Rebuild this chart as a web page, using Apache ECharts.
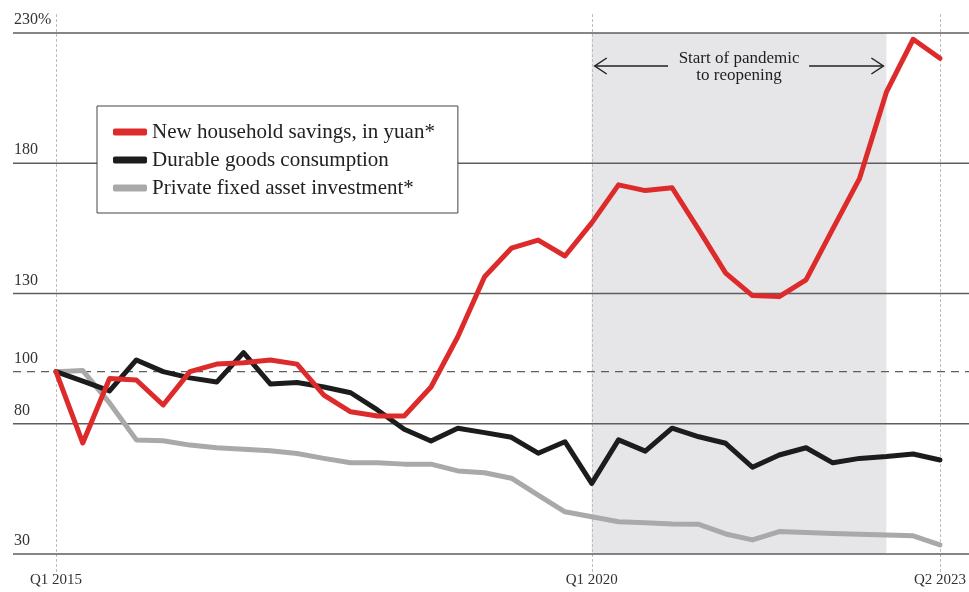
<!DOCTYPE html>
<html>
<head>
<meta charset="utf-8">
<script src="https://cdn.jsdelivr.net/npm/echarts@6/dist/echarts.min.js"></script>
<style>
  html, body { margin: 0; padding: 0; background: #fff; }
  #chart { width: 969px; height: 592px; }
</style>
</head>
<body>
<div id="chart"></div>
<script>
// Quarterly index, Q1 2015 = 100
const quarters = [
  '2015 Q1', '2015 Q2', '2015 Q3', '2015 Q4',
  '2016 Q1', '2016 Q2', '2016 Q3', '2016 Q4',
  '2017 Q1', '2017 Q2', '2017 Q3', '2017 Q4',
  '2018 Q1', '2018 Q2', '2018 Q3', '2018 Q4',
  '2019 Q1', '2019 Q2', '2019 Q3', '2019 Q4',
  '2020 Q1', '2020 Q2', '2020 Q3', '2020 Q4',
  '2021 Q1', '2021 Q2', '2021 Q3', '2021 Q4',
  '2022 Q1', '2022 Q2', '2022 Q3', '2022 Q4',
  '2023 Q1', '2023 Q2'
];

const householdSavings = [
  100, 72.6, 97.4, 96.8, 87.2, 100, 102.9, 103.4, 104.5, 102.9,
  91.0, 84.6, 83.0, 83.0, 94.1, 113.4, 136.4, 147.4, 150.5, 144.4,
  157.1, 171.7, 169.5, 170.6, 154.4, 137.8, 129.2, 128.8, 135.2, 154.8,
  174.2, 207.3, 227.6, 220.3
];

const durableGoods = [
  100, 96.4, 92.6, 104.5, 100, 97.6, 96.0, 107.3, 95.3, 95.8,
  94.1, 91.9, 85.3, 77.9, 73.4, 78.3, 76.6, 74.8, 68.7, 73.1,
  57.1, 73.8, 69.5, 78.3, 75.0, 72.5, 63.3, 68.0, 70.8, 65.0,
  66.7, 67.4, 68.4, 66.1
];

const privateInvestment = [
  100, 100.4, 88.0, 73.8, 73.5, 71.8, 70.8, 70.2, 69.6, 68.6,
  66.7, 65.0, 65.0, 64.5, 64.5, 61.9, 61.2, 59.1, 52.6, 46.2,
  44.3, 42.4, 42.0, 41.5, 41.4, 37.7, 35.4, 38.6, 38.3, 37.9,
  37.6, 37.3, 37.0, 33.5
];

const seriesNames = [
  'New household savings, in yuan*',
  'Durable goods consumption',
  'Private fixed asset investment*'
];

const yTicks = [30, 80, 130, 180, 230];
const baselineValue = 100;
const xTickLabels = { '2015 Q1': 'Q1 2015', '2020 Q1': 'Q1 2020', '2023 Q2': 'Q2 2023' };
const pandemicSpan = ['2020 Q1', '2022 Q4'];
const pandemicNote = ['Start of pandemic', 'to reopening'];

const SERIF = '"Liberation Serif", "DejaVu Serif", serif';
const RED = '#dd2b2b';
const BLACK = '#1c1c1c';
const GREY = '#a9a9a9';
const RULE = '#5e5e5e';

const chart = echarts.init(document.getElementById('chart'));

const lineStyleOf = (color) => ({ color: color, width: 5, join: 'round', cap: 'round' });

chart.setOption({
  animation: false,
  backgroundColor: '#fff',
  grid: { left: 56, right: 29, top: 33, bottom: 38 },
  xAxis: {
    type: 'category',
    data: quarters,
    boundaryGap: false,
    axisLine: { show: false },
    axisTick: { show: false },
    splitLine: { show: false },
    axisLabel: {
      interval: (i, v) => v in xTickLabels,
      formatter: (v) => xTickLabels[v] || '',
      margin: 19,
      fontFamily: SERIF,
      fontSize: 15,
      color: '#333'
    }
  },
  yAxis: {
    type: 'value',
    min: 30,
    max: 230,
    axisLine: { show: false },
    axisTick: { show: false },
    axisLabel: { show: false },
    splitLine: { show: false }
  },
  legend: {
    data: seriesNames,
    orient: 'vertical',
    left: 97,
    top: 106,
    padding: [15, 23, 14, 16],
    itemWidth: 34,
    itemHeight: 7,
    itemGap: 6,
    itemTextGap: 5,
    icon: 'roundRect',
    backgroundColor: '#fff',
    borderColor: '#444',
    borderWidth: 1,
    borderRadius: 0,
    selectedMode: false,
    textStyle: { fontFamily: SERIF, fontSize: 21, color: '#222', lineHeight: 22 }
  },
  series: [
    {
      // shaded pandemic period
      type: 'line',
      name: 'pandemic',
      data: [],
      z: 0,
      silent: true,
      markArea: {
        silent: true,
        itemStyle: { color: '#e6e6e9' },
        data: [[{ xAxis: pandemicSpan[0] }, { xAxis: pandemicSpan[1] }]]
      }
    },
    {
      type: 'line', name: seriesNames[2], data: privateInvestment,
      symbol: 'none', z: 3, lineStyle: lineStyleOf(GREY), itemStyle: { color: GREY }
    },
    {
      type: 'line', name: seriesNames[1], data: durableGoods,
      symbol: 'none', z: 4, lineStyle: lineStyleOf(BLACK), itemStyle: { color: BLACK }
    },
    {
      type: 'line', name: seriesNames[0], data: householdSavings,
      symbol: 'none', z: 5, lineStyle: lineStyleOf(RED), itemStyle: { color: RED }
    }
  ]
});

// Rules, labels and annotation placed from the axis scales
function drawDecorations() {
  const W = chart.getWidth();
  const yPx = (v) => chart.convertToPixel({ yAxisIndex: 0 }, v);
  const xPx = (c) => chart.convertToPixel({ xAxisIndex: 0 }, c);
  const els = [];

  // vertical guides at labelled quarters
  Object.keys(xTickLabels).forEach((q) => {
    const x = Math.round(xPx(q)) + 0.5;
    els.push({
      type: 'line', z: 1, silent: true,
      shape: { x1: x, y1: 14, x2: x, y2: 572 },
      style: { stroke: '#bdbdbd', lineWidth: 1, lineDash: [3, 2] }
    });
  });

  // horizontal rules and their labels
  yTicks.forEach((v, i) => {
    const y = yPx(v);
    els.push({
      type: 'line', z: 1, silent: true,
      shape: { x1: 13, y1: y, x2: W, y2: y },
      style: { stroke: RULE, lineWidth: 1.4 }
    });
    els.push({
      type: 'text', z: 1, silent: true, x: 14, y: y - 5,
      style: {
        text: i === yTicks.length - 1 ? v + '%' : String(v),
        font: '16px ' + SERIF, fill: '#333', verticalAlign: 'bottom', align: 'left'
      }
    });
  });

  const yb = yPx(baselineValue);
  els.push({
    type: 'line', z: 1, silent: true,
    shape: { x1: 13, y1: yb, x2: W, y2: yb },
    style: { stroke: RULE, lineWidth: 1.2, lineDash: [8, 6] }
  });
  els.push({
    type: 'text', z: 1, silent: true, x: 14, y: yb - 5,
    style: { text: String(baselineValue), font: '16px ' + SERIF, fill: '#333', verticalAlign: 'bottom', align: 'left' }
  });

  // pandemic annotation with arrows
  const xa = xPx(pandemicSpan[0]);
  const xb = xPx(pandemicSpan[1]);
  const xm = (xa + xb) / 2;
  const ya = 66;
  const arrowStyle = { stroke: '#222', lineWidth: 1.5, fill: null };
  els.push({
    type: 'polyline', z: 6, silent: true,
    shape: { points: [[xa + 3, ya], [xm - 71, ya]] }, style: arrowStyle
  });
  els.push({
    type: 'polyline', z: 6, silent: true,
    shape: { points: [[xa + 15, ya - 8], [xa + 3, ya], [xa + 15, ya + 8]] }, style: arrowStyle
  });
  els.push({
    type: 'polyline', z: 6, silent: true,
    shape: { points: [[xm + 70, ya], [xb - 3, ya]] }, style: arrowStyle
  });
  els.push({
    type: 'polyline', z: 6, silent: true,
    shape: { points: [[xb - 15, ya - 8], [xb - 3, ya], [xb - 15, ya + 8]] }, style: arrowStyle
  });
  els.push({
    type: 'text', z: 6, silent: true, x: xm, y: 59,
    style: { text: pandemicNote[0], font: '17px ' + SERIF, fill: '#1e1e1e', align: 'center', verticalAlign: 'middle' }
  });
  els.push({
    type: 'text', z: 6, silent: true, x: xm, y: 76,
    style: { text: pandemicNote[1], font: '17px ' + SERIF, fill: '#1e1e1e', align: 'center', verticalAlign: 'middle' }
  });

  chart.setOption({ graphic: { elements: els } });
}

drawDecorations();
</script>
</body>
</html>
